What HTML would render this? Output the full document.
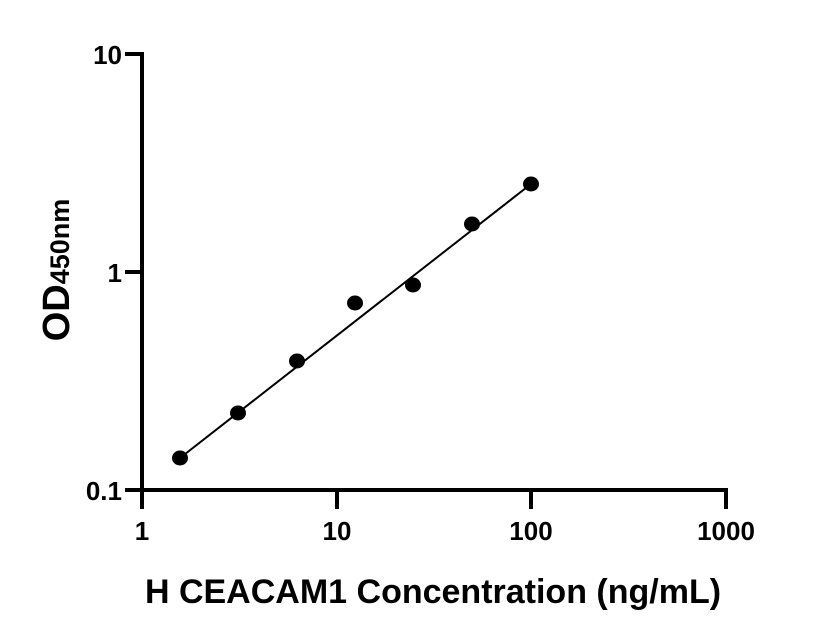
<!DOCTYPE html>
<html><head><style>
html,body{margin:0;padding:0;background:#fff;}
svg{display:block;}
text{font-family:"Liberation Sans",sans-serif;font-weight:bold;fill:#000;}
</style></head><body>
<svg width="816" height="640" viewBox="0 0 816 640">
<g stroke="#000" stroke-width="4" fill="none" stroke-linecap="square">
<line x1="142" y1="54" x2="142" y2="490"/>
<line x1="142" y1="490" x2="726" y2="490"/>
<line x1="127" y1="54" x2="142" y2="54"/>
<line x1="127" y1="272" x2="142" y2="272"/>
<line x1="127" y1="490" x2="142" y2="490"/>
<line x1="142" y1="490" x2="142" y2="507"/>
<line x1="337" y1="490" x2="337" y2="507"/>
<line x1="531" y1="490" x2="531" y2="507"/>
<line x1="726" y1="490" x2="726" y2="507"/>
</g>
<g font-size="26" text-anchor="end">
<text x="122" y="64">10</text>
<text x="122" y="282">1</text>
<text x="122" y="500">0.1</text>
</g>
<g font-size="26" text-anchor="middle">
<text x="142" y="540">1</text>
<text x="337" y="540">10</text>
<text x="531" y="540">100</text>
<text x="726" y="540">1000</text>
</g>
<text x="433" y="603" font-size="34" text-anchor="middle">H CEACAM1 Concentration (ng/mL)</text>
<text transform="translate(69,270) rotate(-90)" text-anchor="middle"><tspan font-size="38">OD</tspan><tspan font-size="27">450nm</tspan></text>
<line x1="180" y1="458" x2="531" y2="184" stroke="#000" stroke-width="2"/>
<g fill="#000">
<ellipse cx="180" cy="458" rx="8" ry="7.5"/>
<ellipse cx="238" cy="413" rx="8" ry="7.5"/>
<ellipse cx="297" cy="361" rx="8" ry="7.5"/>
<ellipse cx="355" cy="303" rx="8" ry="7.5"/>
<ellipse cx="413" cy="285" rx="8" ry="7.5"/>
<ellipse cx="472" cy="224" rx="8" ry="7.5"/>
<ellipse cx="531" cy="184" rx="8" ry="7.5"/>
</g>
</svg>
</body></html>
